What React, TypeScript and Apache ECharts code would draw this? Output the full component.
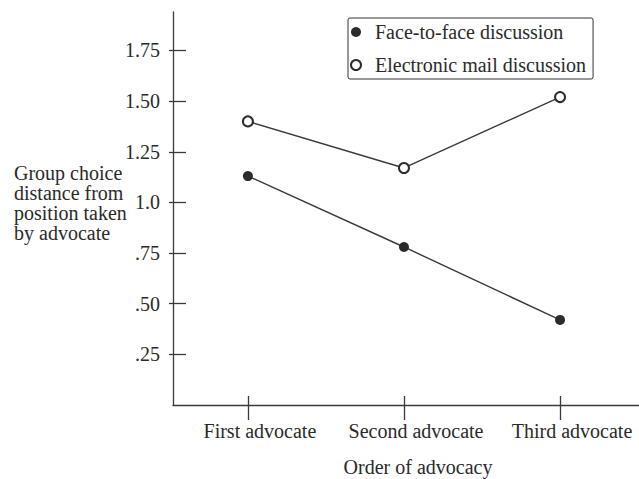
import React, { useEffect, useRef } from 'react';
import * as echarts from 'echarts';

const categories = ['First advocate', 'Second advocate', 'Third advocate'];
const categoryPositions = [1, 2, 3];
const seriesNames = ['Face-to-face discussion', 'Electronic mail discussion'];
const faceToFace = [1.13, 0.78, 0.42];
const emailDiscussion = [1.4, 1.17, 1.52];
const yTickValues = [0.25, 0.5, 0.75, 1.0, 1.25, 1.5, 1.75];
const yTickLabels = ['.25', '.50', '.75', '1.0', '1.25', '1.50', '1.75'];
const yAxisTitle = ['Group choice', 'distance from', 'position taken', 'by advocate'];
const xAxisTitle = 'Order of advocacy';

const FONT = '"Liberation Serif", "Times New Roman", serif';
const INK = '#2a2a2a';
const LINE = '#3a3a3a';

export default function App() {
  const ref = useRef<HTMLDivElement>(null);
  useEffect(() => {
    if (!ref.current) return;
    const chart = echarts.init(ref.current, undefined, { renderer: 'svg' });
    const yFmt = (v: number) => {
      const i = yTickValues.findIndex((t) => Math.abs(t - v) < 1e-6);
      return i >= 0 ? yTickLabels[i] : '';
    };
    const xFmt = (v: number) => {
      const i = categoryPositions.findIndex((t) => Math.abs(t - v) < 1e-6);
      return i >= 0 ? categories[i] : '';
    };
    const xMin = 0.52;
    const xMax = 3.506;
    chart.setOption({
      animation: false,
      backgroundColor: '#ffffff',
      textStyle: { fontFamily: FONT },
      grid: { left: 173, right: 0, top: 12, bottom: 74, containLabel: false },
      legend: {
        orient: 'vertical',
        left: 348,
        top: 18,
        padding: [4, 7, 4, 2],
        itemWidth: 20,
        itemHeight: 10,
        itemGap: 13,
        borderColor: '#333',
        borderWidth: 1,
        borderRadius: 2,
        textStyle: { fontFamily: FONT, fontSize: 20, color: INK, lineHeight: 20, padding: [0, 0, 0, 4] },
        data: [
          { name: seriesNames[0], icon: 'circle' },
          { name: seriesNames[1], icon: 'emptyCircle' },
        ],
      },
      xAxis: [
        {
          type: 'value',
          position: 'bottom',
          min: xMin,
          max: xMax,
          axisLine: { show: true, onZero: false, lineStyle: { color: LINE, width: 1.3 } },
          axisTick: { show: true, customValues: categoryPositions, length: 15, inside: false, lineStyle: { color: LINE, width: 1.3 } },
          axisLabel: {
            customValues: categoryPositions,
            formatter: xFmt,
            margin: 16,
            fontSize: 20,
            fontFamily: FONT,
            color: INK,
            padding: [0, 0, 0, 24],
          },
          splitLine: { show: false },
        },
        {
          type: 'value',
          position: 'bottom',
          min: xMin,
          max: xMax,
          axisLine: { show: false, onZero: false },
          axisTick: { show: true, customValues: categoryPositions, length: 9, inside: true, lineStyle: { color: LINE, width: 1.3 } },
          axisLabel: { show: false },
          splitLine: { show: false },
        },
      ],
      yAxis: [
        {
          type: 'value',
          position: 'left',
          min: 0,
          max: 1.94,
          axisLine: { show: true, onZero: false, lineStyle: { color: LINE, width: 1.3 } },
          axisTick: { show: true, customValues: yTickValues, length: 13, inside: true, lineStyle: { color: LINE, width: 1.3 } },
          axisLabel: {
            customValues: yTickValues,
            formatter: yFmt,
            margin: 13,
            fontSize: 20,
            fontFamily: FONT,
            color: INK,
          },
          splitLine: { show: false },
        },
        {
          type: 'value',
          position: 'left',
          min: 0,
          max: 1.94,
          axisLine: { show: false, onZero: false },
          axisTick: { show: true, customValues: yTickValues, length: 4, inside: false, lineStyle: { color: LINE, width: 1.3 } },
          axisLabel: { show: false },
          splitLine: { show: false },
        },
      ],
      graphic: [
        {
          type: 'text',
          x: 14,
          y: 163,
          style: {
            text: yAxisTitle.join('\n'),
            font: `20px ${FONT}`,
            lineHeight: 20,
            fill: INK,
            align: 'left',
            verticalAlign: 'top',
          },
        },
        {
          type: 'text',
          x: 418,
          y: 467,
          style: {
            text: xAxisTitle,
            font: `20px ${FONT}`,
            fill: INK,
            align: 'center',
            verticalAlign: 'middle',
          },
        },
      ],
      series: [
        {
          name: seriesNames[0],
          type: 'line',
          xAxisIndex: 0,
          yAxisIndex: 0,
          symbol: 'circle',
          symbolSize: 10,
          itemStyle: { color: '#2b2b2b' },
          lineStyle: { color: LINE, width: 1.4 },
          data: categoryPositions.map((x, i) => [x, faceToFace[i]]),
        },
        {
          name: seriesNames[1],
          type: 'line',
          xAxisIndex: 0,
          yAxisIndex: 0,
          symbol: 'emptyCircle',
          symbolSize: 10,
          itemStyle: { color: '#2b2b2b', borderWidth: 1.5 },
          lineStyle: { color: LINE, width: 1.4 },
          data: categoryPositions.map((x, i) => [x, emailDiscussion[i]]),
        },
      ],
    });
    return () => chart.dispose();
  }, []);
  return (
    <div
      ref={ref}
      style={{ position: 'absolute', left: 0, top: 0, width: 639, height: 479, background: '#fff' }}
    />
  );
}
